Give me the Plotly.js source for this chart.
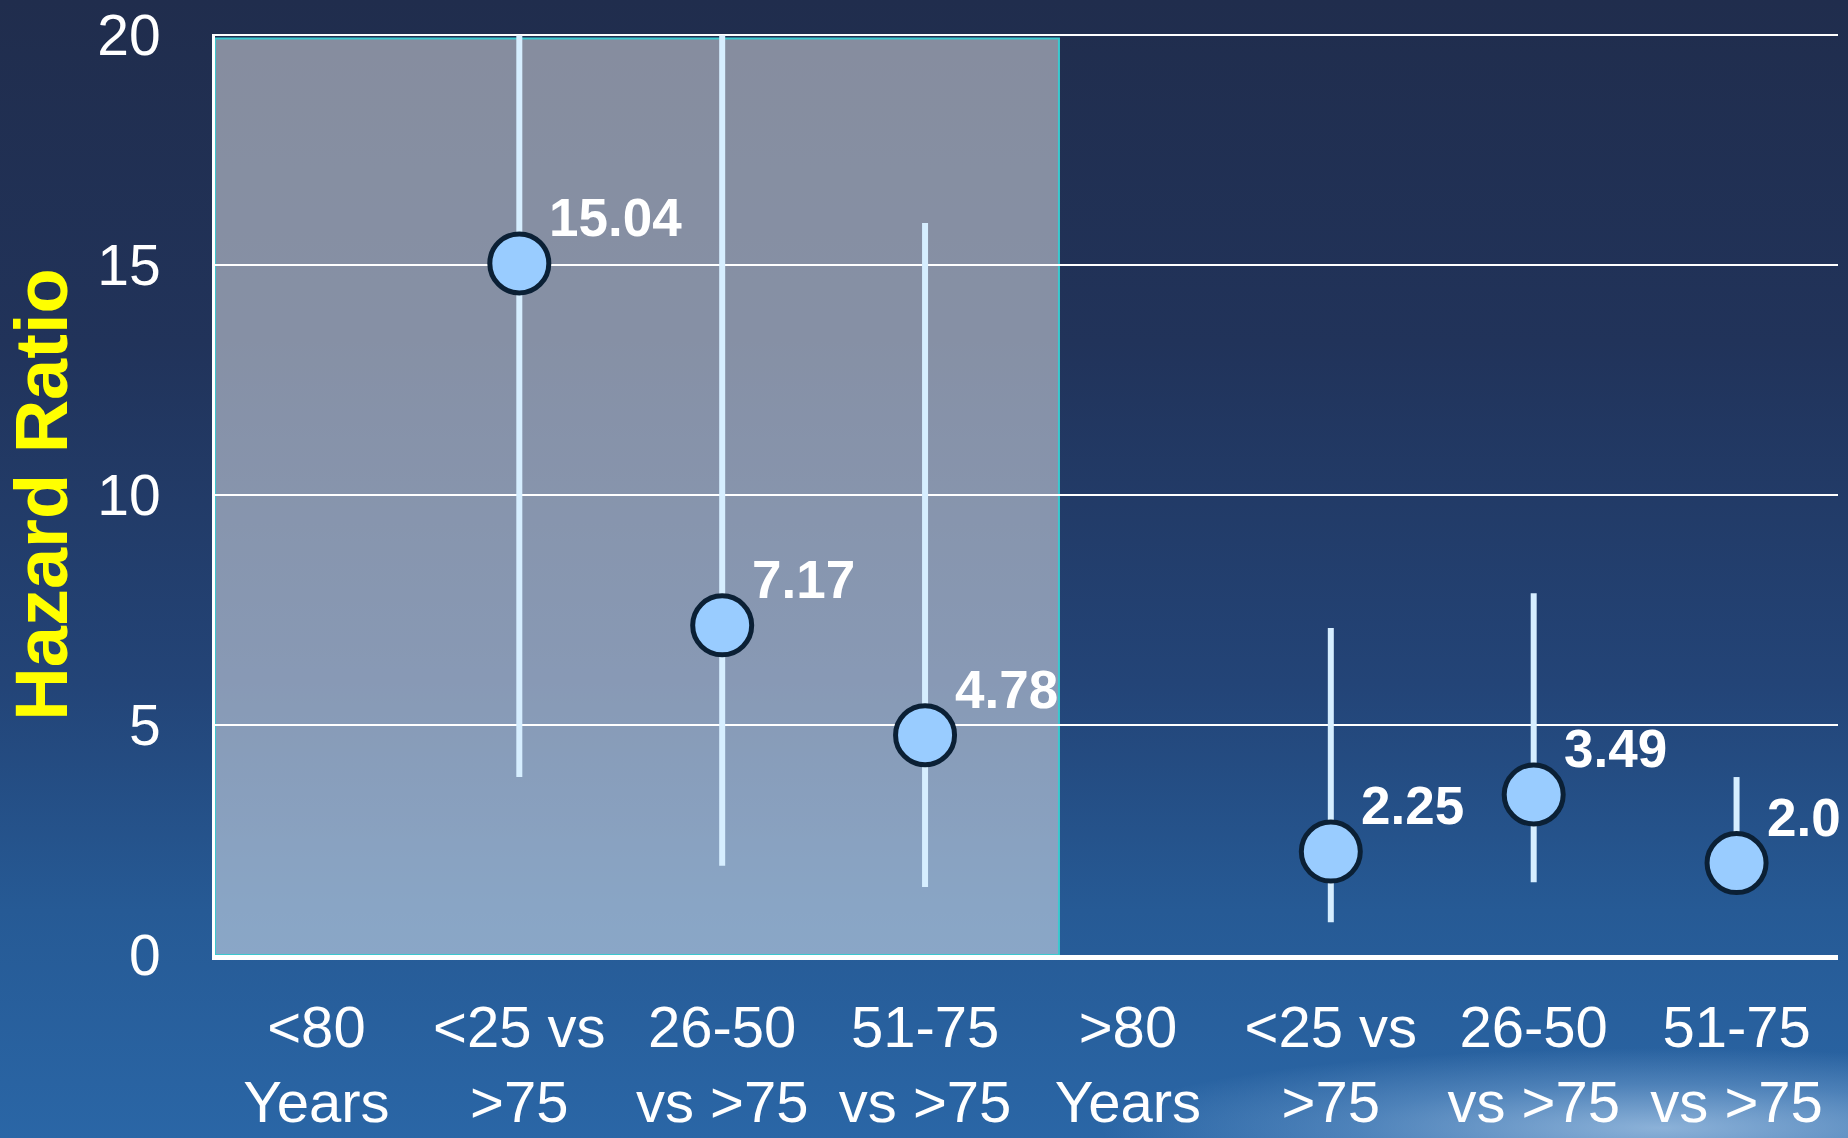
<!DOCTYPE html>
<html>
<head>
<meta charset="utf-8">
<script src="https://cdn.plot.ly/plotly-3.0.1.min.js"></script>
<style>
  html, body { margin: 0; padding: 0; width: 1848px; height: 1138px; overflow: hidden; }
  body {
    background:
      radial-gradient(ellipse 560px 80px at 1660px 1128px, rgba(205,228,250,0.6) 0%, rgba(170,205,240,0.28) 55%, rgba(170,205,240,0) 100%),
      linear-gradient(to bottom, #202d4d 0%, #21335a 30%, #234477 60%, #265a95 80%, #2a66a6 100%);
  }
  #chart { width: 1848px; height: 1138px; }
</style>
</head>
<body>
<div id="chart"></div>
<script>
// Age groups and the within-group comparisons
const groupLabels = ['<80<br>Years', '>80<br>Years'];
const comparisonLabels = ['<25 vs<br>>75', '26-50<br>vs >75', '51-75<br>vs >75'];

// Patients under 80
const hrUnder80 = [15.04, 7.17, 4.78];
const hrTextUnder80 = ['15.04', '7.17', '4.78'];
const ciLowUnder80 = [3.87, 1.94, 1.48];
const ciHighUnder80 = [20, 20, 15.92];

// Patients over 80
const hrOver80 = [2.25, 3.49, 2.0];
const hrTextOver80 = ['2.25', '3.49', '2.0'];
const ciLowOver80 = [0.71, 1.58, 1.4];
const ciHighOver80 = [7.11, 7.87, 3.87];

const yTicks = [0, 5, 10, 15, 20];

// Axis slots: each group header followed by its comparisons
const tickText = [];
const slotOf = [];
groupLabels.forEach((g, gi) => {
  tickText.push(g);
  slotOf.push([]);
  comparisonLabels.forEach(c => {
    slotOf[gi].push(tickText.length);
    tickText.push(c);
  });
});
const tickVals = tickText.map((_, i) => i);

const groups = [
  { x: slotOf[0], hr: hrUnder80, txt: hrTextUnder80, lo: ciLowUnder80, hi: ciHighUnder80 },
  { x: slotOf[1], hr: hrOver80, txt: hrTextOver80, lo: ciLowOver80, hi: ciHighOver80 }
];

const traces = groups.map(g => ({
  type: 'scatter',
  mode: 'markers',
  x: g.x,
  y: g.hr,
  error_y: {
    type: 'data',
    symmetric: false,
    array: g.hi.map((h, i) => h - g.hr[i]),
    arrayminus: g.lo.map((l, i) => g.hr[i] - l),
    color: '#d6eeff',
    thickness: 6,
    width: 0
  },
  marker: {
    size: 59,
    color: '#99ccff',
    line: { color: '#0b2035', width: 5 }
  },
  cliponaxis: false,
  hoverinfo: 'skip',
  showlegend: false
}));

const annotations = [];
groups.forEach(g => {
  g.x.forEach((xv, i) => {
    annotations.push({
      x: xv, y: g.hr[i], xref: 'x', yref: 'y',
      text: g.txt[i],
      showarrow: false,
      xanchor: 'left', yanchor: 'middle',
      xshift: 28, yshift: 46,
      font: { family: 'Liberation Sans, Arial, sans-serif', size: 53, color: '#ffffff', weight: 'bold' }
    });
  });
});

const layout = {
  width: 1848,
  height: 1138,
  margin: { l: 215, r: 10, t: 34, b: 183 },
  paper_bgcolor: 'rgba(0,0,0,0)',
  plot_bgcolor: 'rgba(0,0,0,0)',
  font: { family: 'Liberation Sans, Arial, sans-serif', color: '#ffffff' },
  xaxis: {
    range: [-0.5, tickText.length - 0.5],
    tickmode: 'array',
    tickvals: tickVals,
    ticktext: tickText,
    tickfont: { size: 58, color: '#ffffff' },
    ticks: '',
    ticklabelstandoff: 17,
    showgrid: false,
    zeroline: false,
    showline: true,
    linecolor: '#ffffff',
    linewidth: 5,
    fixedrange: true
  },
  yaxis: {
    range: [0, 20.03],
    tickmode: 'array',
    tickvals: yTicks,
    tickfont: { size: 57, color: '#ffffff' },
    ticks: '',
    ticklabelstandoff: 40,
    ticklabeloverflow: 'allow',
    showgrid: true,
    gridcolor: '#ffffff',
    gridwidth: 2,
    zeroline: false,
    showline: true,
    linecolor: '#ffffff',
    linewidth: 3,
    title: {
      text: 'Hazard Ratio',
      font: { family: 'Liberation Sans, Arial, sans-serif', size: 74, color: '#ffff00', weight: 'bold' },
      standoff: 16
    },
    fixedrange: true
  },
  shapes: [{
    type: 'rect',
    xref: 'x', yref: 'y',
    x0: -0.5, x1: 3.66, y0: 0, y1: 19.93,
    fillcolor: 'rgba(255,255,255,0.46)',
    line: { color: '#3cc8cf', width: 2 },
    layer: 'below'
  }],
  annotations: annotations
};

Plotly.newPlot('chart', traces, layout, { displayModeBar: false, staticPlot: true });
</script>
</body>
</html>
